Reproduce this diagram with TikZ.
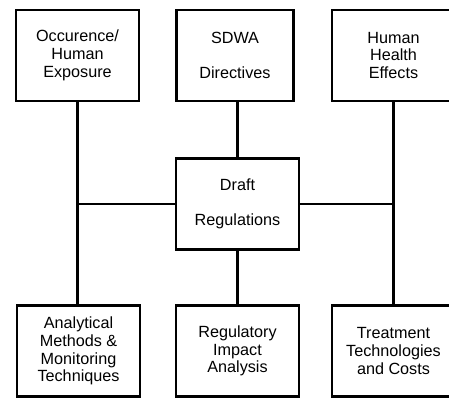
\documentclass[tikz,border=0pt]{standalone}
\usepackage{fontspec}
\setmainfont{Liberation Sans}
\usepackage{tikz}
\usetikzlibrary{positioning, calc}

\tikzset{
  box/.style={draw=black, line width=2.2pt, minimum width=123pt, minimum height=91pt,
              inner sep=0pt, align=center, font=\fontsize{16.2}{17.8}\selectfont},
  link/.style={draw=black, line width=2.2pt}
}

\begin{document}
\begin{tikzpicture}[x=1pt, y=-1pt]
  \useasboundingbox (0,0) rectangle (449,399);

  % Top row of boxes
  \node[box] (occur) at (77.5,55.5) {Occurence/\\Human\\Exposure};
  \node[box, minimum width=117pt] (sdwa) at (235,55.5) {SDWA\\[17.8pt]Directives};
  \node[box] (health) at (393.5,55.5) {Human\\Health\\Effects};

  % Centre box
  \node[box] (draft) at (237.5,204) {Draft\\[17.8pt]Regulations};

  % Bottom row of boxes
  \node[box] (analyt) at (78.5,351) {Analytical\\Methods \&\\Monitoring\\Techniques};
  \node[box] (impact) at (237.5,351) {Regulatory\\Impact\\Analysis};
  \node[box] (treat) at (393.5,351) {Treatment\\Technologies\\and Costs};

  % Vertical links
  \draw[link] (occur.south) -- (occur.south |- analyt.north);
  \draw[link] (draft.north) -- (draft.north |- sdwa.south);
  \draw[link] (draft.south) -- (impact.north);
  \draw[link] (health.south) -- (treat.north);

  % Horizontal links to the side columns
  \draw[link] (draft.west) -- (draft.west -| occur.south);
  \draw[link] (draft.east) -- (draft.east -| health.south);
\end{tikzpicture}
\end{document}
